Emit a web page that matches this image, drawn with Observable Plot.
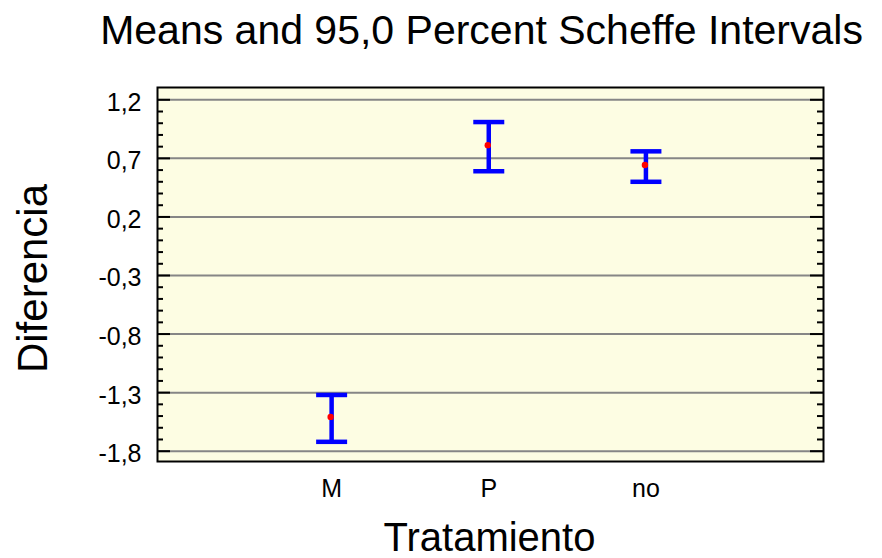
<!DOCTYPE html>
<html>
<head>
<meta charset="utf-8">
<script src="https://cdn.jsdelivr.net/npm/d3@7"></script>
<script src="https://cdn.jsdelivr.net/npm/@observablehq/plot@0.6"></script>
<style>
  body { margin: 0; background: #ffffff; }
  #chart svg { display: block; }
</style>
</head>
<body>
<div id="chart"></div>
<script>
// Group means with 95% Scheffe intervals
const categories = ["M", "P", "no"];
const means = [-1.52, 0.80, 0.63];
const lowerLimits = [-1.72, 0.59, 0.50];
const upperLimits = [-1.32, 1.01, 0.76];

// Y axis ticks and their comma-decimal labels
const yTicks = [-1.8, -1.3, -0.8, -0.3, 0.2, 0.7, 1.2];
const yTickLabels = ["-1,8", "-1,3", "-0,8", "-0,3", "0,2", "0,7", "1,2"];
const yMinorTicks = d3.range(-18, 13).map(v => v / 10).filter(v => !yTicks.some(t => Math.abs(t - v) < 1e-9));

const titleText = "Means and 95,0 Percent Scheffe Intervals";
const xLabel = "Tratamiento";
const yLabel = "Diferencia";

const rows = categories.map((c, i) => ({
  pos: i + 1, category: c, mean: means[i], lower: lowerLimits[i], upper: upperLimits[i]
}));

const W = 882, H = 558;
const mL = 157, mR = 59, mT = 87, mB = 97;
const frameW = W - mL - mR;
const font = "'Liberation Sans', Arial, sans-serif";

// Horizontal cap drawn as a line whose half-width equals the dot radius
const capSymbol = {
  draw(context, size) {
    const w = Math.sqrt(size / Math.PI);
    context.moveTo(-w, 0);
    context.lineTo(w, 0);
  }
};

const chart = Plot.plot({
  width: W,
  height: H,
  marginLeft: mL,
  marginRight: mR,
  marginTop: mT,
  marginBottom: mB,
  style: { fontFamily: font, background: "#ffffff", color: "#000000" },
  x: { type: "linear", domain: [-0.108, 4.13] },
  y: { domain: [-1.888, 1.305] },
  marks: [
    Plot.frame({ fill: "#fdfde3" }),
    // grid lines
    Plot.ruleY(yTicks, { stroke: "#868686", strokeWidth: 2 }),
    // major ticks, inside on both sides
    Plot.ruleY(yTicks, { stroke: "#000000", strokeWidth: 2, insetRight: frameW - 13 }),
    Plot.ruleY(yTicks, { stroke: "#000000", strokeWidth: 2, insetLeft: frameW - 13 }),
    // minor ticks
    Plot.ruleY(yMinorTicks, { stroke: "#000000", strokeWidth: 2, insetRight: frameW - 6 }),
    Plot.ruleY(yMinorTicks, { stroke: "#000000", strokeWidth: 2, insetLeft: frameW - 6 }),
    // interval stems and caps
    Plot.ruleX(rows, { x: "pos", y1: "lower", y2: "upper", stroke: "#0000ff", strokeWidth: 4.5 }),
    Plot.dot(rows, { x: "pos", y: "lower", r: 15.5, symbol: capSymbol, stroke: "#0000ff", strokeWidth: 4.5, fill: "none" }),
    Plot.dot(rows, { x: "pos", y: "upper", r: 15.5, symbol: capSymbol, stroke: "#0000ff", strokeWidth: 4.5, fill: "none" }),
    // means
    Plot.dot(rows, { x: "pos", y: "mean", r: 3.2, fill: "#ff0000", stroke: "none", dx: -1, dy: -1.5 }),
    Plot.frame({ stroke: "#000000", strokeWidth: 2 }),
    // axes
    Plot.axisY(yTicks, {
      anchor: "left", tickSize: 0, tickPadding: 16, fontSize: 25, dy: 3,
      tickFormat: (d, i) => yTickLabels[i], label: null
    }),
    Plot.axisX(rows.map(d => d.pos), {
      anchor: "bottom", tickSize: 0, tickPadding: 18, fontSize: 25,
      tickFormat: (d, i) => categories[i], label: null
    }),
    // title and axis labels
    Plot.text([titleText], {
      frameAnchor: "top", text: d => d, lineAnchor: "bottom", textAnchor: "middle",
      dy: 43 - mT, dx: -9, fontSize: 41
    }),
    Plot.text([xLabel], {
      frameAnchor: "bottom", text: d => d, lineAnchor: "bottom", textAnchor: "middle",
      dy: 550 - (H - mB), dx: -1, fontSize: 40
    }),
    Plot.text([yLabel], {
      frameAnchor: "left", text: d => d, lineAnchor: "bottom", textAnchor: "middle", rotate: -90,
      dx: 46 - mL, dy: 4, fontSize: 42
    })
  ]
});

document.getElementById("chart").appendChild(chart);
</script>
</body>
</html>
